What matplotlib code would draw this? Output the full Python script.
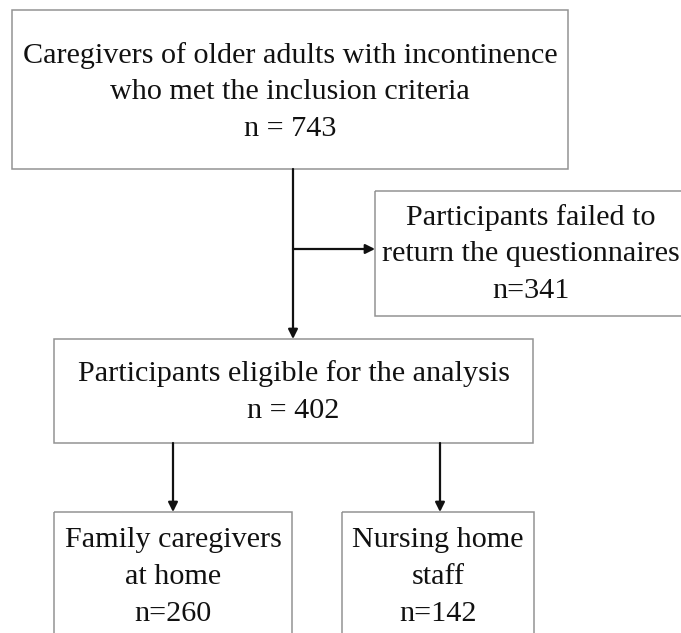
import matplotlib
matplotlib.use("Agg")
from matplotlib import pyplot as plt
from matplotlib.patches import Rectangle

# flowchart content
box_texts = [
    "Caregivers of older adults with incontinence\nwho met the inclusion criteria\nn = 743",
    "Participants failed to\nreturn the questionnaires\nn=341",
    "Participants eligible for the analysis\nn = 402",
    "Family caregivers\nat home\nn=260",
    "Nursing home\nstaff\nn=142",
]
# box geometry in pixel space: x0, y0, x1, y1 (y down)
boxes = [
    (12, 10, 568, 169),
    (375, 191, 686, 316),
    (54, 339, 533, 443),
    (54, 512, 292, 640),
    (342, 512, 534, 640),
]
text_y = [92, 254, 392, 577, 577]

W, H = 681, 633
fig = plt.figure(figsize=(W / 100, H / 100), dpi=100)
ax = fig.add_axes([0, 0, 1, 1])
ax.set_xlim(0, W)
ax.set_ylim(H, 0)
ax.axis("off")

for (x0, y0, x1, y1), txt, ty in zip(boxes, box_texts, text_y):
    ax.add_patch(Rectangle((x0, y0), x1 - x0, y1 - y0, fill=False,
                           edgecolor="#939393", linewidth=1.1))
    ax.text((x0 + x1) / 2, ty, txt, ha="center", va="center",
            fontsize=21.7, family="Liberation Serif", linespacing=1.53,
            color="#111111")

lw = 1.6
arrow = dict(arrowstyle="-|>", color="#111111", lw=lw, mutation_scale=14,
             shrinkA=0, shrinkB=0)
# main vertical line from top box to eligible box
ax.annotate("", xy=(293, 339), xytext=(293, 169), arrowprops=arrow)
# side branch to excluded box
ax.annotate("", xy=(375, 249), xytext=(293, 249), arrowprops=arrow)
# split to groups
ax.annotate("", xy=(173, 512), xytext=(173, 443), arrowprops=arrow)
ax.annotate("", xy=(440, 512), xytext=(440, 443), arrowprops=arrow)

fig.savefig("out.png", dpi=100, facecolor="white")
